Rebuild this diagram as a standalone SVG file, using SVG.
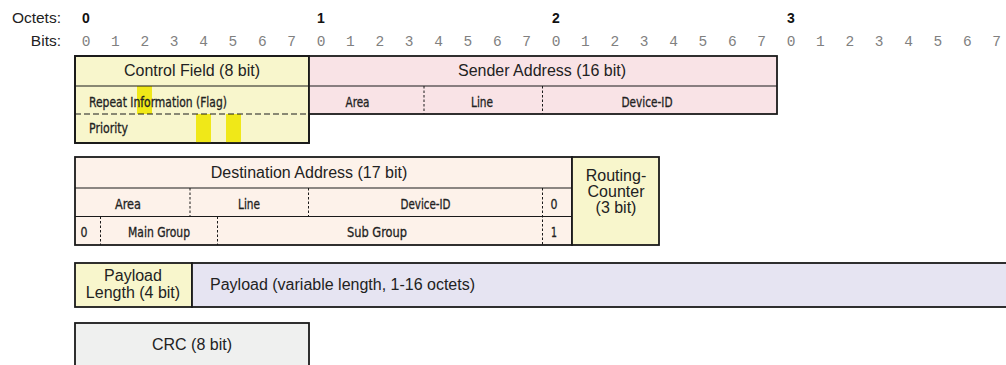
<svg xmlns="http://www.w3.org/2000/svg" width="1006" height="365" viewBox="0 0 1006 365">
<style>
.hdr{font-family:"Liberation Sans",Arial,sans-serif;font-size:15.5px;fill:#222;text-anchor:end}
.oct{font-family:"Liberation Sans",Arial,sans-serif;font-size:14px;font-weight:bold;fill:#111;text-anchor:middle}
.bit{font-family:"Liberation Mono","Courier New",monospace;font-size:14.5px;fill:#808080;text-anchor:middle}
.box{stroke:#1a1a1a;stroke-width:1.8}
.t{font-family:"Liberation Sans",Arial,sans-serif;font-size:16px;fill:#222;text-anchor:middle}
.s{font-family:"DejaVu Sans Condensed","Liberation Sans",sans-serif;font-size:14.5px;fill:#222;stroke:#222;stroke-width:0.3;text-anchor:middle}
.ln{stroke:#1a1a1a;stroke-width:1.2;fill:none}
.dv{stroke:#1a1a1a;stroke-width:1;stroke-dasharray:2.5,2;fill:none}
.dh{stroke:#1a1a1a;stroke-width:1;stroke-dasharray:6,3;fill:none}
.hl{fill:#f0e818}
.yel{fill:#f8f6cc}
</style>
<g id="header">
<text class="hdr" x="61" y="23">Octets:</text>
<text class="hdr" x="61" y="46">Bits:</text>
<text class="oct" x="86" y="23">0</text>
<text class="oct" x="321" y="23">1</text>
<text class="oct" x="556" y="23">2</text>
<text class="oct" x="791" y="23">3</text>
<text class="bit" x="86" y="46">0</text><text class="bit" x="115.4" y="46">1</text><text class="bit" x="144.8" y="46">2</text><text class="bit" x="174.1" y="46">3</text><text class="bit" x="203.5" y="46">4</text><text class="bit" x="232.9" y="46">5</text><text class="bit" x="262.3" y="46">6</text><text class="bit" x="291.6" y="46">7</text>
<text class="bit" x="321" y="46">0</text><text class="bit" x="350.4" y="46">1</text><text class="bit" x="379.8" y="46">2</text><text class="bit" x="409.1" y="46">3</text><text class="bit" x="438.5" y="46">4</text><text class="bit" x="467.9" y="46">5</text><text class="bit" x="497.3" y="46">6</text><text class="bit" x="526.6" y="46">7</text>
<text class="bit" x="556" y="46">0</text><text class="bit" x="585.4" y="46">1</text><text class="bit" x="614.8" y="46">2</text><text class="bit" x="644.1" y="46">3</text><text class="bit" x="673.5" y="46">4</text><text class="bit" x="702.9" y="46">5</text><text class="bit" x="732.3" y="46">6</text><text class="bit" x="761.6" y="46">7</text>
<text class="bit" x="791" y="46">0</text><text class="bit" x="820.4" y="46">1</text><text class="bit" x="849.8" y="46">2</text><text class="bit" x="879.1" y="46">3</text><text class="bit" x="908.5" y="46">4</text><text class="bit" x="937.9" y="46">5</text><text class="bit" x="967.3" y="46">6</text><text class="bit" x="996.6" y="46">7</text>
</g>
<g id="control-field">
<rect class="box yel" x="75" y="56" width="234" height="87"/>
<rect class="hl" x="137" y="86" width="15" height="28"/>
<rect class="hl" x="196" y="114" width="15" height="29"/>
<rect class="hl" x="226" y="114" width="15" height="29"/>
<line class="ln" x1="75" y1="86" x2="309" y2="86"/>
<line class="dh" x1="75" y1="114" x2="309" y2="114"/>
<rect x="75" y="56" width="234" height="87" fill="none" stroke="#1a1a1a" stroke-width="1.8"/>
<text class="t" x="192" y="76">Control Field (8 bit)</text>
<text class="s" x="89" y="106.5" style="text-anchor:start" textLength="138" lengthAdjust="spacingAndGlyphs">Repeat Information (Flag)</text>
<text class="s" x="89" y="133" style="text-anchor:start" textLength="39" lengthAdjust="spacingAndGlyphs">Priority</text>
</g>
<g id="sender-address">
<rect class="box" x="309" y="56" width="468" height="58" fill="#f9e3e6"/>
<line class="ln" x1="309" y1="86" x2="777" y2="86"/>
<line class="dv" x1="424" y1="86" x2="424" y2="114"/>
<line class="dv" x1="542.5" y1="86" x2="542.5" y2="114"/>
<text class="t" x="542" y="76">Sender Address (16 bit)</text>
<text class="s" x="357.5" y="106.5" textLength="24" lengthAdjust="spacingAndGlyphs">Area</text>
<text class="s" x="482" y="106.5" textLength="22" lengthAdjust="spacingAndGlyphs">Line</text>
<text class="s" x="647" y="106.5" textLength="51" lengthAdjust="spacingAndGlyphs">Device-ID</text>
</g>
<g id="destination-address">
<rect class="box" x="75" y="157" width="497" height="88" fill="#fdf2ea"/>
<line class="ln" x1="75" y1="188" x2="572" y2="188"/>
<line class="ln" x1="75" y1="216.5" x2="572" y2="216.5"/>
<line class="dv" x1="190" y1="188" x2="190" y2="216.5"/>
<line class="dv" x1="308.5" y1="188" x2="308.5" y2="216.5"/>
<line class="dv" x1="542.5" y1="188" x2="542.5" y2="245"/>
<line class="dv" x1="100.5" y1="216.5" x2="100.5" y2="245"/>
<line class="dv" x1="217.5" y1="216.5" x2="217.5" y2="245"/>
<text class="t" x="309" y="178">Destination Address (17 bit)</text>
<text class="s" x="128" y="208.5" textLength="26" lengthAdjust="spacingAndGlyphs">Area</text>
<text class="s" x="249" y="208.5" textLength="22" lengthAdjust="spacingAndGlyphs">Line</text>
<text class="s" x="425.5" y="208.5" textLength="50" lengthAdjust="spacingAndGlyphs">Device-ID</text>
<text class="s" x="554" y="208.5" textLength="7" lengthAdjust="spacingAndGlyphs">0</text>
<text class="s" x="84" y="236.5" textLength="7" lengthAdjust="spacingAndGlyphs">0</text>
<text class="s" x="159" y="236.5" textLength="62" lengthAdjust="spacingAndGlyphs">Main Group</text>
<text class="s" x="377" y="236.5" textLength="60" lengthAdjust="spacingAndGlyphs">Sub Group</text>
<text class="s" x="554" y="236.5" textLength="6" lengthAdjust="spacingAndGlyphs">1</text>
</g>
<g id="routing-counter">
<rect class="box yel" x="572" y="157" width="87" height="88"/>
<text class="t" x="616" y="181">Routing-</text>
<text class="t" x="616" y="197">Counter</text>
<text class="t" x="616" y="213">(3 bit)</text>
</g>
<g id="payload-length">
<rect class="box yel" x="75" y="263" width="117" height="44"/>
<text class="t" x="133" y="281">Payload</text>
<text class="t" x="133" y="298">Length (4 bit)</text>
</g>
<g id="payload">
<rect class="box" x="192" y="263" width="830" height="44" fill="#e6e4f2"/>
<text class="t" x="210" y="290" style="text-anchor:start">Payload (variable length, 1-16 octets)</text>
</g>
<g id="crc">
<rect class="box" x="75" y="323" width="234" height="60" fill="#eff0ef"/>
<text class="t" x="192" y="350">CRC (8 bit)</text>
</g>
<g id="connectors"/>
</svg>
